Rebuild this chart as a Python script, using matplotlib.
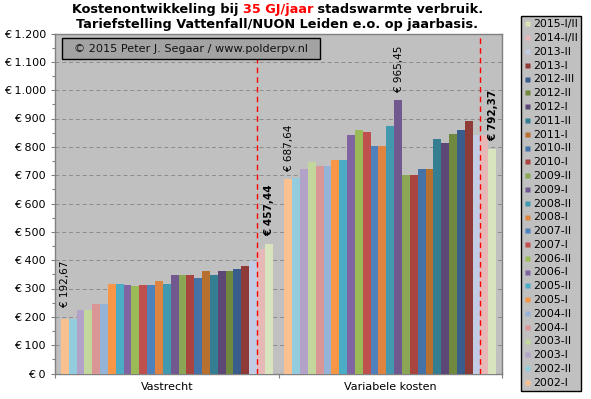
import matplotlib
matplotlib.use('Agg')
import matplotlib.pyplot as plt
from matplotlib.patches import Rectangle
from matplotlib.lines import Line2D
from matplotlib.ticker import MultipleLocator, FuncFormatter, FixedLocator, NullFormatter
import numpy as np

# ---------------- data ----------------
categories = ['Vastrecht', 'Variabele kosten']
periods = ['2002-I', '2002-II', '2003-I', '2003-II', '2004-I', '2004-II', '2005-I', '2005-II',
           '2006-I', '2006-II', '2007-I', '2007-II', '2008-I', '2008-II', '2009-I', '2009-II',
           '2010-I', '2010-II', '2011-I', '2011-II', '2012-I', '2012-II', '2012-III', '2013-I',
           '2013-II', '2014-I/II', '2015-I/II']
vastrecht = [192.67, 192, 223, 223, 245, 245, 316, 316, 312, 308, 312, 312, 326, 316,
             347, 347, 347, 336, 361, 347, 361, 361, 369, 379, 397, 439, 457.44]
variabel = [687.64, 691, 721, 746, 732, 732, 753, 753, 841, 859, 852, 802, 802, 873,
            965.45, 700, 700, 721, 721, 827, 813, 845, 859, 891, 841, 841, 792.37]
colors = ['#FAC090', '#93CDDD', '#B3A2C7', '#C3D69B', '#D99694', '#95B3D7', '#F79646', '#4BACC6',
          '#8064A2', '#9BBB59', '#C0504D', '#4F81BD', '#DE8340', '#4198AF', '#71588F', '#8BA755',
          '#A9443F', '#4572A7', '#B8702F', '#357D91', '#5C4776', '#71893F', '#3A5E8C', '#8E3B38',
          '#C3CCE5', '#E6B9B8', '#D7E4BD']
yticks = [0, 100, 200, 300, 400, 500, 600, 700, 800, 900, 1000, 1100, 1200]
# value labels: (category index, period, text, bold)
value_labels = [(0, '2002-I', '€ 192,67', False),
                (0, '2015-I/II', '€ 457,44', True),
                (1, '2002-I', '€ 687,64', False),
                (1, '2009-I', '€ 965,45', False),
                (1, '2015-I/II', '€ 792,37', True)]
marker_period = '2014-I/II'

# ---------------- figure ----------------
W, H = 591, 399
fig = plt.figure(figsize=(W / 100, H / 100), dpi=100)
fig.patch.set_facecolor('white')


def fx(px):
    return px / W


def fy(py):
    return 1 - py / H


ax = fig.add_axes([fx(55), fy(373.5), (502 - 55) / W, (373.5 - 33.5) / H])
ax.set_facecolor('#C0C0C0')

n = len(periods)
w = 1.0 / (n + 1.5)
cx = np.arange(len(categories))
handles = []
for i, (p, c) in enumerate(zip(periods, colors)):
    xs = cx - n * w / 2 + (i + 0.5) * w
    ax.bar(xs, [vastrecht[i], variabel[i]], width=w, color=c, linewidth=0, zorder=3)
    handles.append(Line2D([], [], marker='s', linestyle='none', markersize=3.6,
                          markerfacecolor=c, markeredgecolor='none', label=p))

# red dashed markers
mi = periods.index(marker_period)
for c in cx:
    ax.axvline(c - n * w / 2 + mi * w, color='#FF0000', lw=1.0, ls=(0, (4, 3)), zorder=4)

# value labels
series = [vastrecht, variabel]
for ci, per, txt, bold in value_labels:
    i = periods.index(per)
    xb = ci - n * w / 2 + (i + 0.5) * w
    off = 8.5 if txt == '€ 192,67' else 5.5
    ax.annotate(txt, (xb, series[ci][i]), xytext=(0.5, off), textcoords='offset points',
                rotation=90, ha='center', va='bottom', fontsize=7.5,
                fontweight='bold' if bold else 'normal', color='black', zorder=5)

ax.set_xlim(-0.5, len(categories) - 0.5)
ax.set_ylim(0, 1200)
ax.yaxis.set_major_locator(FixedLocator(yticks))
ax.yaxis.set_minor_locator(MultipleLocator(50))
ax.yaxis.set_major_formatter(FuncFormatter(lambda v, p: '€ ' + f'{int(v):,}'.replace(',', '.')))
ax.tick_params(axis='y', which='major', length=3, width=0.8, color='#808080', labelsize=8, pad=3.5)
ax.tick_params(axis='y', which='minor', length=2.5, width=0.8, color='#808080')

ax.xaxis.set_major_locator(FixedLocator([-0.5, 0.5, 1.5]))
ax.xaxis.set_major_formatter(NullFormatter())
ax.xaxis.set_minor_locator(FixedLocator(list(cx)))
ax.set_xticklabels(categories, minor=True)
ax.tick_params(axis='x', which='major', length=3, width=0.8, color='#808080')
ax.tick_params(axis='x', which='minor', length=0, labelsize=8, pad=6)

ax.set_axisbelow(True)
ax.yaxis.grid(True, which='major', color='#8C8C8C', linestyle=(0, (4, 3)), linewidth=0.7)
for s in ax.spines.values():
    s.set_color('#808080')
    s.set_linewidth(1.0)

# copyright box
fig.add_artist(Rectangle((fx(62), fy(58.7)), (320 - 62) / W, (58.7 - 37.7) / H,
                         transform=fig.transFigure, facecolor='#A3A3A3', edgecolor='black',
                         linewidth=1.0, zorder=6))
fig.text(fx(191), fy(48.5), '© 2015 Peter J. Segaar / www.polderpv.nl', ha='center', va='center',
         fontsize=8.1, color='#111111', zorder=7)

# title (two lines, part of line 1 in red)
tfs = 9.3
parts = [('Kostenontwikkeling bij ', 'black'), ('35 GJ/jaar', '#FF0000'), (' stadswarmte verbruik.', 'black')]
texts = [fig.text(0, fy(9.5), t, color=c, fontsize=tfs, fontweight='bold', ha='left', va='center')
         for t, c in parts]
fig.text(fx(277.5), fy(24.5), 'Tariefstelling Vattenfall/NUON Leiden e.o. op jaarbasis.',
         fontsize=tfs, fontweight='bold', ha='center', va='center')
fig.canvas.draw()
r = fig.canvas.get_renderer()
widths = [t.get_window_extent(r).width for t in texts]
x0 = 277.5 - sum(widths) / 2
for t, wd in zip(texts, widths):
    t.set_x(fx(x0))
    x0 += wd

# legend
leg = fig.legend(handles=handles[::-1], loc='upper left', bbox_to_anchor=(fx(520.5), fy(16)),
                 fontsize=7.8, frameon=True, fancybox=False, borderpad=0.3, labelspacing=0.35,
                 handlelength=0.55, handletextpad=0.28, borderaxespad=0)
fr = leg.get_frame()
fr.set_facecolor('#C0C0C0')
fr.set_edgecolor('black')
fr.set_linewidth(1.0)
fr.set_alpha(1)

fig.savefig('out.png', dpi=100, facecolor='white')
